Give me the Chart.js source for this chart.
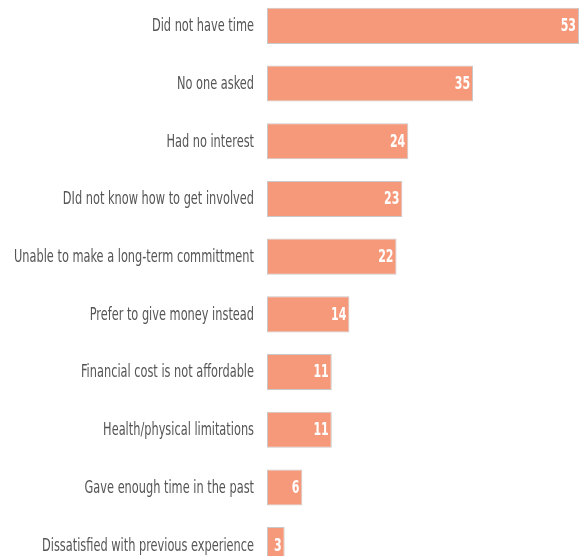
<!DOCTYPE html>
<html>
<head>
<meta charset="utf-8">
<script src="https://cdn.jsdelivr.net/npm/chart.js@4"></script>
<style>
  html, body { margin: 0; padding: 0; background: #fff; overflow: hidden; width: 583px; height: 556px; }
  #reasons_canvas { position: absolute; left: 0; top: -3px; }
</style>
</head>
<body>
<canvas id="reasons_canvas" width="583" height="577"></canvas>
<script>
const categories = [
    'Did not have time',
    'No one asked',
    'Had no interest',
    'DId not know how to get involved',
    'Unable to make a long-term committment',
    'Prefer to give money instead',
    'Financial cost is not affordable',
    'Health/physical limitations',
    'Gave enough time in the past',
    'Dissatisfied with previous experience'
];
const values = [53, 35, 24, 23, 22, 14, 11, 11, 6, 3];

const labelFont = '17px "DejaVu Sans Condensed", "DejaVu Sans", sans-serif';
const valueFont = 'bold 17px "DejaVu Sans Condensed", "DejaVu Sans", sans-serif';

// schmale schrift nachbauen: text horizontal stauchen
const condensedText = {
    id: 'condensedText',
    afterDatasetsDraw(chart) {
        const c = chart.ctx;
        const meta = chart.getDatasetMeta(0);
        const left = chart.chartArea.left;

        c.save();
        c.font = labelFont;
        let widest = 0;
        categories.forEach(t => { widest = Math.max(widest, c.measureText(t).width); });
        const squeeze = 240 / widest;
        c.fillStyle = '#555555';
        c.textAlign = 'right';
        c.textBaseline = 'middle';
        meta.data.forEach((bar, i) => {
            c.save();
            c.translate(left - 13, bar.y + 1);
            c.scale(squeeze, 1);
            c.fillText(categories[i], 0, 0);
            c.restore();
        });

        c.font = valueFont;
        c.fillStyle = '#ffffff';
        meta.data.forEach((bar, i) => {
            c.save();
            c.translate(bar.x - 3, bar.y + 1);
            c.scale(0.72, 1);
            c.fillText(values[i], 0, 0);
            c.restore();
        });
        c.restore();
    }
};

const ctx = document.getElementById('reasons_canvas');

new Chart(ctx, {
    type: 'bar',
    data: {
        labels: categories,
        datasets: [{
            data: values,
            backgroundColor: '#f6997a',
            borderColor: '#c9c9c9',
            borderWidth: 1,
            borderSkipped: false,
            categoryPercentage: 1,
            barPercentage: 0.625
        }]
    },
    options: {
        indexAxis: 'y',
        responsive: false,
        animation: false,
        layout: { padding: { top: 0, bottom: 0, left: 0, right: 4 } },
        scales: {
            x: {
                display: false,
                min: 0,
                max: 53
            },
            y: {
                grid: { display: false, drawTicks: false },
                border: { display: false },
                ticks: { display: false },
                afterFit(scale) { scale.width = 267; }
            }
        },
        plugins: {
            legend: { display: false },
            tooltip: { enabled: false }
        }
    },
    plugins: [condensedText]
});
</script>
</body>
</html>
